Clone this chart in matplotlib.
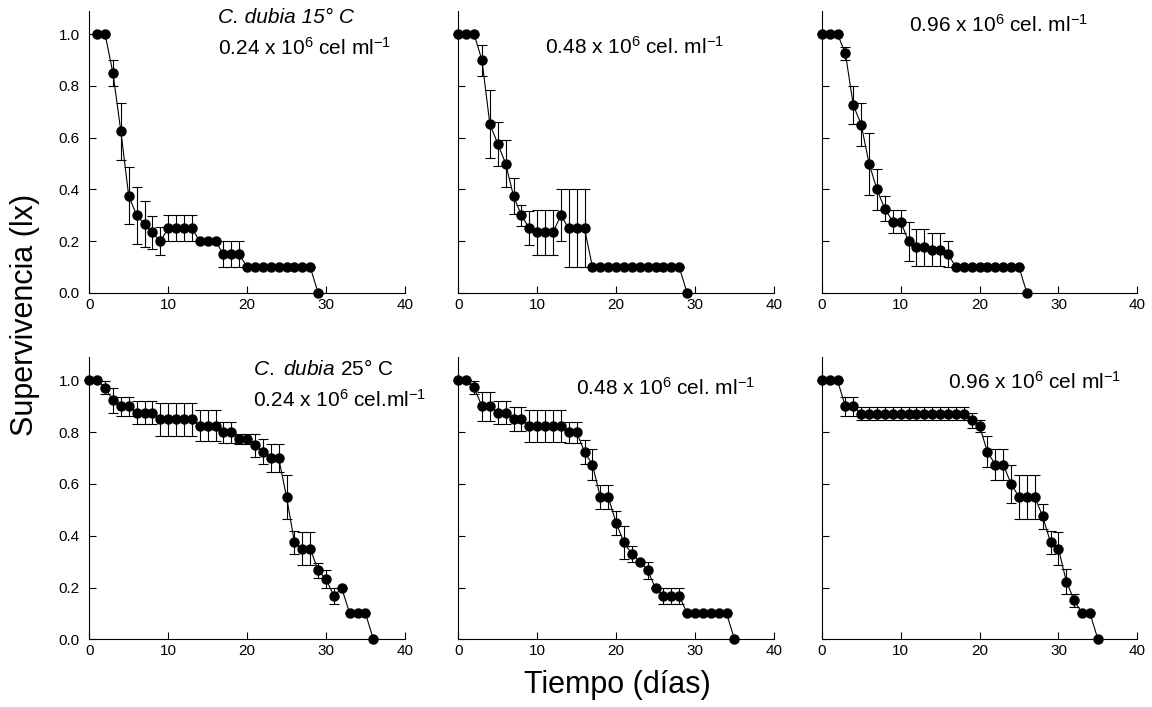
import numpy as np
import matplotlib
matplotlib.use('Agg')
import matplotlib.pyplot as plt

plt.rcParams['font.family'] = ['Liberation Sans', 'DejaVu Sans']
plt.rcParams['mathtext.fontset'] = 'custom'
plt.rcParams['mathtext.rm'] = 'Liberation Sans'
plt.rcParams['mathtext.it'] = 'Liberation Sans:italic'

# C. dubia 15 C
days_15_024 = list(range(1, 30))
lx_15_024 = [1.0, 1.0, 0.85, 0.625, 0.375, 0.30, 0.266, 0.234, 0.20,
             0.25, 0.25, 0.25, 0.25, 0.20, 0.20, 0.20, 0.15, 0.15, 0.15,
             0.10, 0.10, 0.10, 0.10, 0.10, 0.10, 0.10, 0.10, 0.10, 0.0]
se_15_024 = [0, 0, 0.05, 0.11, 0.11, 0.11, 0.09, 0.065, 0.055,
             0.05, 0.05, 0.05, 0.05, 0, 0, 0, 0.05, 0.05, 0.05,
             0, 0, 0, 0, 0, 0, 0, 0, 0, 0]

days_15_048 = list(range(0, 30))
lx_15_048 = [1.0, 1.0, 1.0, 0.90, 0.653, 0.577, 0.50, 0.375, 0.30, 0.25,
             0.234, 0.234, 0.234, 0.30, 0.25, 0.25, 0.25,
             0.10, 0.10, 0.10, 0.10, 0.10, 0.10, 0.10, 0.10, 0.10, 0.10,
             0.10, 0.10, 0.0]
se_15_048 = [0, 0, 0, 0.06, 0.13, 0.085, 0.09, 0.07, 0.04, 0.065,
             0.087, 0.087, 0.087, 0.10, 0.15, 0.15, 0.15,
             0, 0, 0, 0, 0, 0, 0, 0, 0, 0, 0, 0, 0]

days_15_096 = list(range(0, 27))
lx_15_096 = [1.0, 1.0, 1.0, 0.926, 0.726, 0.651, 0.50, 0.40, 0.325, 0.276,
             0.276, 0.20, 0.176, 0.176, 0.168, 0.168, 0.15,
             0.10, 0.10, 0.10, 0.10, 0.10, 0.10, 0.10, 0.10, 0.10, 0.0]
se_15_096 = [0, 0, 0, 0.025, 0.074, 0.084, 0.12, 0.08, 0.048, 0.045,
             0.045, 0.075, 0.072, 0.072, 0.065, 0.065, 0.05,
             0, 0, 0, 0, 0, 0, 0, 0, 0, 0]

# C. dubia 25 C
days_25_024 = list(range(0, 37))
lx_25_024 = [1.0, 1.0, 0.972, 0.923, 0.90, 0.90, 0.875, 0.875, 0.875,
             0.85, 0.85, 0.85, 0.85, 0.85, 0.825, 0.825, 0.825, 0.80, 0.80,
             0.774, 0.774, 0.75, 0.724, 0.70, 0.70, 0.55, 0.374, 0.35, 0.35,
             0.266, 0.232, 0.168, 0.197, 0.10, 0.10, 0.10, 0.0]
se_25_024 = [0, 0, 0.025, 0.047, 0.036, 0.036, 0.045, 0.045, 0.045,
             0.064, 0.064, 0.064, 0.064, 0.064, 0.06, 0.06, 0.06, 0.04, 0.04,
             0.02, 0.02, 0.045, 0.048, 0.055, 0.055, 0.084, 0.046, 0.063, 0.063,
             0.03, 0.034, 0.03, 0, 0, 0, 0, 0]

days_25_048 = list(range(0, 36))
lx_25_048 = [1.0, 1.0, 0.974, 0.90, 0.90, 0.875, 0.875, 0.85, 0.85,
             0.825, 0.825, 0.825, 0.825, 0.825, 0.80, 0.80, 0.724, 0.675,
             0.55, 0.55, 0.45, 0.374, 0.33, 0.30, 0.266, 0.197,
             0.168, 0.168, 0.168, 0.10, 0.10, 0.10, 0.10, 0.10, 0.10, 0.0]
se_25_048 = [0, 0, 0.025, 0.056, 0.056, 0.045, 0.045, 0.047, 0.047,
             0.062, 0.062, 0.062, 0.062, 0.062, 0.04, 0.04, 0.046, 0.06,
             0.047, 0.047, 0.047, 0.062, 0.03, 0, 0.032, 0,
             0.03, 0.03, 0.03, 0, 0, 0, 0, 0, 0, 0]

days_25_096 = list(range(0, 36))
lx_25_096 = [1.0, 1.0, 1.0, 0.90, 0.90] + [0.872] * 14 + \
            [0.846, 0.823, 0.724, 0.675, 0.675, 0.60, 0.55, 0.55, 0.55,
             0.475, 0.374, 0.35, 0.223, 0.15, 0.10, 0.10, 0.0]
se_25_096 = [0, 0, 0, 0.036, 0.036] + [0.025] * 14 + \
            [0.028, 0.023, 0.06, 0.06, 0.06, 0.072, 0.084, 0.084, 0.084,
             0.048, 0.046, 0.063, 0.047, 0.025, 0, 0, 0]

panels = [
    (days_15_024, lx_15_024, se_15_024),
    (days_15_048, lx_15_048, se_15_048),
    (days_15_096, lx_15_096, se_15_096),
    (days_25_024, lx_25_024, se_25_024),
    (days_25_048, lx_25_048, se_25_048),
    (days_25_096, lx_25_096, se_25_096),
]

fig = plt.figure(figsize=(11.52, 7.07), dpi=100)
lefts = [0.0775, 0.3978, 0.7133]
bottoms = [0.5856, 0.0958]
width = 0.274
height = 0.399

axes = []
for r in range(2):
    for c in range(3):
        ax = fig.add_axes([lefts[c], bottoms[r], width, height])
        axes.append(ax)

for i, (ax, (x, y, e)) in enumerate(zip(axes, panels)):
    ax.errorbar(x, y, yerr=e, fmt='none', ecolor='black', elinewidth=0.8,
                capsize=3.5, capthick=0.8, clip_on=False)
    ax.plot(x, y, color='black', linewidth=0.8, marker='o', markersize=6.5,
            markerfacecolor='black', markeredgecolor='black', clip_on=False,
            zorder=3)
    ax.set_xlim(0, 40)
    ax.set_ylim(0, 1.09)
    ax.set_xticks([0, 10, 20, 30, 40])
    ax.set_yticks([0, 0.2, 0.4, 0.6, 0.8, 1.0])
    ax.spines['top'].set_visible(False)
    ax.spines['right'].set_visible(False)
    ax.tick_params(direction='in', length=5, width=0.8, labelsize=11)
    ax.tick_params(axis='y', pad=7)
    if i % 3 == 0:
        ax.set_yticklabels(['0.0', '0.2', '0.4', '0.6', '0.8', '1.0'])
    else:
        ax.set_yticklabels([])

fs = 15
axes[0].text(16.3, 1.066, 'C. dubia 15° C', style='italic', fontsize=fs,
             ha='left', va='center')
axes[0].text(16.3, 0.946, r'0.24 x 10$^6$ cel ml$^{-1}$', fontsize=fs,
             ha='left', va='center')
axes[1].text(10.95, 0.95, r'0.48 x 10$^6$ cel. ml$^{-1}$', fontsize=fs,
             ha='left', va='center')
axes[2].text(11.1, 1.035, r'0.96 x 10$^6$ cel. ml$^{-1}$', fontsize=fs,
             ha='left', va='center')
axes[3].text(20.7, 1.043, r'$\mathit{C.\ dubia}$ 25° C', fontsize=fs,
             ha='left', va='center')
axes[3].text(20.7, 0.926, r'0.24 x 10$^{\mathregular{6}}$ cel.ml$^{-1}$', fontsize=fs,
             ha='left', va='center')
axes[4].text(14.9, 0.973, r'0.48 x 10$^6$ cel. ml$^{-1}$', fontsize=fs,
             ha='left', va='center')
axes[5].text(16.0, 0.996, r'0.96 x 10$^6$ cel ml$^{-1}$', fontsize=fs,
             ha='left', va='center')

fig.text(0.022, 0.554, 'Supervivencia (lx)', rotation=90, fontsize=22,
         ha='center', va='center')
fig.text(0.536, 0.031, 'Tiempo (días)', fontsize=22, ha='center', va='center')

fig.savefig('out.png', dpi=100)
